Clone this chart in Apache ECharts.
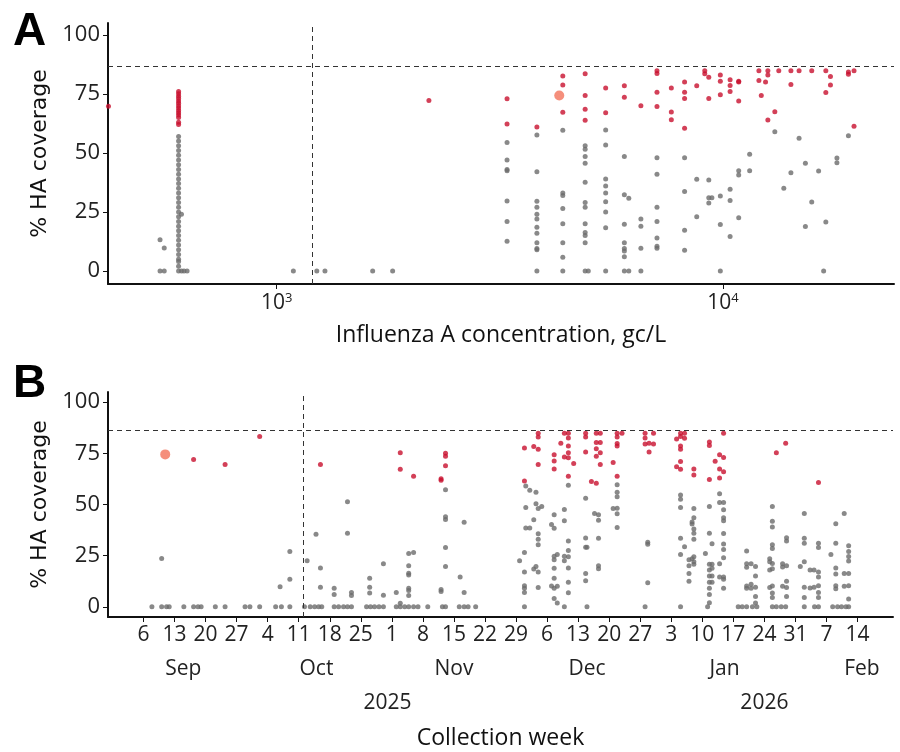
<!DOCTYPE html>
<html>
<head>
<meta charset="utf-8">
<script src="https://cdn.jsdelivr.net/npm/echarts@6/dist/echarts.min.js"></script>
<style>
html, body { margin: 0; padding: 0; background: #fff; }
#main { width: 900px; height: 752px; }
</style>
</head>
<body>
<div id="main"></div>
<script>
var myChart = echarts.init(document.getElementById('main'));

// Panel A: columns of [concentration gc/L, gray % HA values, red % HA values]
let colsA = [
	[420, [], [69.8]],
	[548, [0, 13.2], []],
	[560, [0, 9.7], []],
	[603, [0, 2, 4, 5, 7, 9, 11, 13, 15, 17, 19, 21, 23, 25, 27, 29, 31, 33, 35, 37, 39, 41, 43, 45, 47, 49, 51, 53, 55, 57], [62, 63, 65, 66, 67, 68, 69, 70, 71, 72, 73, 74, 75, 76]],
	[612, [0, 24], []],
	[620, [0], []],
	[630, [0], []],
	[1090, [0], []],
	[1230, [0], []],
	[1283, [0], []],
	[1641, [0], []],
	[1819, [0], []],
	[2193, [], [72.2]],
	[3282, [54.4, 47, 43, 42.4, 29.6, 21, 12.6], [72.9, 62.2]],
	[3828, [57.6, 42, 29.5, 27, 24, 22, 18.5, 16, 12, 9.5, 9, 0], [61]],
	[4375, [59.6, 33, 32, 26.5, 20, 12, 5.8, 0], [82.6, 78.8, 67.2]],
	[4910, [53, 51.5, 48.5, 45.6, 37.6, 29, 27, 20, 16.3, 15, 12, 0], [83.5, 74.3, 68.5, 63.8]],
	[4990, [0], []],
	[5458, [59.7, 53.4, 39, 36, 33, 29.3, 25, 18.3, 0], [77.5, 67]],
	[6010, [48.5, 32.3, 19.8, 12, 9.5, 8.5, 6, 0], [78.4, 73.6]],
	[6150, [30.8, 0], []],
	[6545, [22, 19, 9.6, 0], [70]],
	[7112, [48, 41, 27, 21, 14, 10.5, 9.6], [84.8, 83.6, 75.7, 69.6]],
	[7658, [], [77.5, 67.3, 64]],
	[8200, [48, 33.7, 17.3, 8.8], [80, 75.7, 73, 60.4]],
	[8730, [38.8, 23], [78.4]],
	[9100, [], [83.5, 84.8]],
	[9290, [38.5, 31, 28.8], [82, 73]],
	[9440, [31], []],
	[9860, [31.8, 19.7, 0], [83, 80.3, 74.6]],
	[10370, [34.6, 29.8, 14.6], [81, 78.5, 76]],
	[10840, [40.7, 42.4, 22.6], [80.3, 80, 72]],
	[11470, [49.4, 42.4], []],
	[12030, [], [80.7, 84.8]],
	[12180, [], [74.3]],
	[12450, [], [80]],
	[12600, [], [63.9, 84.8, 83]],
	[13060, [59], [67.4]],
	[13330, [], [84.8]],
	[13680, [35], []],
	[14190, [41.6], [84.8, 79]],
	[14800, [56.2], [84.8]],
	[15290, [45.6, 18.8], []],
	[15800, [29.2], [84.8]],
	[16370, [42.3], []],
	[16800, [0], []],
	[16990, [20.8], [84.8, 75.6]],
	[17400, [], [82.3, 78.8]],
	[17990, [47.8, 45.8], []],
	[19090, [57.3], [84.3, 83.3]],
	[19650, [], [84.8, 61.3]]
];
let highlightA = [[4296, 74.3]];

// Panel B: columns of [days after 6 Sep 2025, gray % HA values, red % HA values]
let colsB = [
	[1.9, [0], []], [4.1, [0, 23.6], []], [5.2, [0], []], [5.8, [0], []],
	[9.1, [0], []], [11.3, [0], [72]], [12.3, [0], []], [13, [0], []],
	[16.2, [0], []], [18.4, [0], [69.5]], [22.9, [0], []], [24, [0], []], [26.2, [0], [83.3]],
	[29.8, [0], []], [30.8, [9.8], []], [31.1, [0], []], [33, [0, 13.4, 27], []],
	[36.3, [0], []], [36.9, [22.5], []], [37.6, [0], []], [38.6, [0], []], [38.9, [35.5], []],
	[39.5, [0], []], [39.9, [19, 9.6], [69.5]], [40.2, [0], []],
	[43, [0, 9, 6], []], [44, [0], []], [45.1, [0], []], [46, [0, 51.3, 36], []], [46.9, [0, 7, 5.5], []],
	[50.3, [0], []], [51, [14, 9.6, 6.7], []], [51.2, [0], []], [52.1, [0], []], [53.1, [0], []], [54.1, [0, 21, 5.6], []],
	[57, [0, 7], []], [57.9, [0, 1.7], [75.3, 67.2]], [58.9, [0], []], [59.8, [0, 26, 9, 20, 16.4, 15.5, 8, 5.5], []],
	[60.9, [0, 26.5], [63.8]], [61.9, [0], []], [64.1, [0], []],
	[67.1, [8.5, 7.5], [62.6, 61.8]], [67.4, [0], []], [68.1, [0, 57.2, 44, 42.7, 29, 19.7], [75, 73.6, 69]],
	[71.2, [0], []], [71.4, [14.6], []], [72.3, [0, 41.3, 7], []], [73.2, [0], []], [74.9, [0], []],
	[84.8, [22.5], []], [85.9, [0, 26.5, 17, 10.3, 9, 7], [77.6, 61.5]], [86.2, [59, 48.5, 38.5], []],
	[87.1, [57, 38.5], []], [88, [42.5, 18.5], [78.4]], [88.5, [50.4, 56, 19.7], []],
	[89, [48, 35.7, 33, 30.3, 17, 9.4], [84.8, 83, 77, 69.5]], [89.8, [49], []],
	[92, [40.2, 10.2], []], [92.6, [38.4, 45, 24.7, 23, 18.8, 14, 9, 4], [74.3, 71.3, 67.4]],
	[93.3, [25.6, 10, 1.8], []], [94.1, [], [80]],
	[94.9, [0, 47.6, 42, 24.7, 22.5], [73.2, 84.8]],
	[95.8, [59.4, 32.2, 27.5, 24.4, 19, 12, 6.8], [84.8, 82.5, 78.6, 75.3, 72.8, 63.8]], [97, [], [70]],
	[99.7, [53, 33.6, 29.1, 16.3, 12.7], [84.8, 83, 75.7]], [100, [0, 29.1], []], [101, [], [61.2]],
	[101.7, [45.6], []], [102.1, [], [60.4, 84.8, 80.3, 77.3, 73.6]],
	[102.6, [45, 42.3, 33.5, 20, 18.6], []], [103, [], [84.8, 80.3, 75.3, 69.5]],
	[105.9, [48.1], [70.5]], [106.8, [59.6, 56, 53.8, 48.2, 45.5, 38.8], [84.8, 83, 79.8, 78.6, 63.8]], [107.9, [], [84.8]],
	[113.1, [0], [84.8, 82.5, 79.6]], [113.7, [31.6, 30.6, 11.8], []], [114, [], [80, 75.7]], [115, [], [84.8, 79.6]],
	[120.2, [], [82, 68.5]], [121.1, [0, 54.7, 52.6, 48.5, 33.5, 25.5], [84.8, 83.3, 78.6, 77, 71, 67.2]],
	[122, [29.3], [84.8, 82.4]], [123, [23, 20, 16.3, 12.5], []],
	[123.7, [40.5, 41.5, 23.5], []], [124.1, [48, 43.5, 38, 36, 33, 24.5, 22, 20.8], [67.4, 64.4]],
	[126.7, [26], []], [127.2, [0], []], [127.6, [49, 36, 20.8, 18, 15, 12, 9, 6, 2], [80.6, 78.8, 62.2]],
	[128.2, [30.8, 20.8, 18.8, 15, 12], []], [128.9, [], [71.2]],
	[129.9, [55.2, 51, 21, 14.5], [74.3, 67.4, 62.9]],
	[130.8, [51, 47.4, 43.5, 42, 35.8, 30.7, 28, 24, 14.5, 13.5, 9], [84.8, 73, 66]],
	[134.1, [0], []], [135, [0], []], [136, [0, 27.3, 21, 19.3, 10.2, 9], []],
	[137, [21, 11, 9], []], [137.3, [0], []], [138, [19.7, 15, 9.6, 5, 1.8], []], [138.3, [0], []],
	[141.2, [23.5, 22, 18, 9.4], []], [141.8, [0, 49, 41.8, 39, 30.3, 28.5, 21.1, 18.6, 10.1, 6.7, 4.5], []],
	[142.7, [0], [75.3]], [143.8, [0], []], [144.1, [21, 19.5, 10], []], [144.8, [0], [80]],
	[145, [33.8, 32.2, 20, 12.5, 9.4, 5], []],
	[148.1, [19.7], []], [149, [0, 45.6, 33.5, 31, 22, 9.5, 4.5], []],
	[150.3, [18, 9.2], []], [151.2, [18, 9.6], []], [151.3, [0], []],
	[152.2, [0, 31, 29, 17, 14.5, 10.3, 7, 4.5], [60.8]],
	[155, [25.5], []], [155.4, [0], []], [156.1, [40.6, 31, 19, 16, 10.3, 8.8], []], [156.5, [0], []],
	[157.4, [0], []], [158, [45.6, 16.3, 10], []], [158.4, [0], []],
	[159, [0, 29.8, 27, 24.6, 22.4, 16.3, 10.3, 3.8], []]
];
let highlightB = [[4.9, 74.5]];

let weekTicks = [0, 7, 14, 21, 28, 35, 42, 49, 56, 63, 70, 77, 84, 91, 98, 105, 112, 119, 126, 133, 140, 147, 154, 161];
let monthPos = [9, 39, 70, 100, 131, 162];
let monthNames = ['Sep', 'Oct', 'Nov', 'Dec', 'Jan', 'Feb'];
let yearPos = [55, 140];
let yearNames = ['2025', '2026'];
let yTicks = [0, 25, 50, 75, 100];
let threshold = 86.5;
let cutA = 1200;
let cutB = 36;

const startDate = new Date(2025, 8, 6);
const toPoints = (cols, k) => {
	let out = [];
	cols.forEach(c => c[k].forEach(v => out.push([c[0], v])));
	return out;
};

const gray = '#6b6b6b', red = '#c8102e', orange = '#f3735b';
const font = "'Liberation Sans Narrow', 'Open Sans', sans-serif";

const yAxisBase = (grid, min) => ({
	gridIndex: grid,
	type: 'value',
	min: min,
	max: 105,
	name: '% HA coverage',
	nameLocation: 'middle',
	nameGap: 48,
	nameTextStyle: { fontFamily: 'DejaVu Sans', fontSize: 22, color: '#111' },
	splitLine: { show: false },
	axisLine: { show: true, onZero: false, lineStyle: { color: '#111', width: 2 } },
	axisTick: { show: true, length: 5, customValues: yTicks, lineStyle: { color: '#111' } },
	axisLabel: { customValues: yTicks, fontFamily: font, fontSize: 22, color: '#222', margin: 8 }
});

const dashLines = (xv) => ({
	silent: true,
	symbol: 'none',
	label: { show: false },
	lineStyle: { type: [5, 4], color: '#333', width: 1 },
	data: [{ yAxis: threshold }, { xAxis: xv }]
});

const xLine = { onZero: false, lineStyle: { color: '#111', width: 2 } };

option = {
	animation: false,
	grid: [
		{ left: 108, right: 6, top: 23, height: 261 },
		{ left: 108, right: 7, top: 392, height: 225 }
	],
	title: [
		{ text: 'A', left: 8, top: 4, textStyle: { fontSize: 46, fontWeight: 'bold', fontFamily: 'Liberation Sans', color: '#000' } },
		{ text: 'B', left: 8, top: 356, textStyle: { fontSize: 46, fontWeight: 'bold', fontFamily: 'Liberation Sans', color: '#000' } }
	],
	xAxis: [{
		gridIndex: 0,
		type: 'log',
		logBase: 10,
		min: 419,
		max: 24150,
		name: 'Influenza A concentration, gc/L',
		nameLocation: 'middle',
		nameGap: 40,
		nameTextStyle: { fontFamily: font, fontSize: 23, color: '#111' },
		splitLine: { show: false },
		axisLine: xLine,
		axisTick: { customValues: [1000, 10000], length: 5, lineStyle: { color: '#111' } },
		axisLabel: {
			customValues: [1000, 10000],
			formatter: v => '10{s|' + Math.round(Math.log10(v)) + '}',
			fontFamily: font, fontSize: 21, color: '#222', margin: 8,
			rich: { s: { fontSize: 13, verticalAlign: 'top', padding: [0, 0, 10, 0], fontFamily: font, color: '#222' } }
		}
	}, {
		gridIndex: 1,
		type: 'value',
		min: -8,
		max: 169,
		name: 'Collection week',
		nameLocation: 'middle',
		nameGap: 110,
		nameTextStyle: { fontFamily: font, fontSize: 23, color: '#111' },
		splitLine: { show: false },
		axisLine: xLine,
		axisTick: { customValues: weekTicks, length: 5, lineStyle: { color: '#111' } },
		axisLabel: {
			customValues: weekTicks,
			formatter: v => {
				let d = new Date(startDate.getTime());
				d.setDate(d.getDate() + Math.round(v));
				return String(d.getDate());
			},
			fontFamily: font, fontSize: 21, color: '#222', margin: 8
		}
	}, {
		gridIndex: 1,
		type: 'value',
		min: -8,
		max: 169,
		position: 'bottom',
		offset: 34,
		axisLine: { show: false },
		axisTick: { show: false },
		splitLine: { show: false },
		axisLabel: {
			customValues: monthPos,
			formatter: v => monthNames[monthPos.indexOf(v)],
			fontFamily: font, fontSize: 21, color: '#222', margin: 8
		}
	}, {
		gridIndex: 1,
		type: 'value',
		min: -8,
		max: 169,
		position: 'bottom',
		offset: 68,
		axisLine: { show: false },
		axisTick: { show: false },
		splitLine: { show: false },
		axisLabel: {
			customValues: yearPos,
			formatter: v => yearNames[yearPos.indexOf(v)],
			fontFamily: font, fontSize: 21, color: '#222', margin: 8
		}
	}],
	yAxis: [yAxisBase(0, -5.5), yAxisBase(1, -5)],
	series: [{
		type: 'scatter', xAxisIndex: 0, yAxisIndex: 0, symbolSize: 5,
		itemStyle: { color: gray }, data: toPoints(colsA, 1),
		markLine: dashLines(cutA)
	}, {
		type: 'scatter', xAxisIndex: 0, yAxisIndex: 0, symbolSize: 5,
		itemStyle: { color: red }, data: toPoints(colsA, 2)
	}, {
		type: 'scatter', xAxisIndex: 0, yAxisIndex: 0, symbolSize: 10,
		itemStyle: { color: orange }, data: highlightA
	}, {
		type: 'scatter', xAxisIndex: 1, yAxisIndex: 1, symbolSize: 5,
		itemStyle: { color: gray }, data: toPoints(colsB, 1),
		markLine: dashLines(cutB)
	}, {
		type: 'scatter', xAxisIndex: 1, yAxisIndex: 1, symbolSize: 5,
		itemStyle: { color: red }, data: toPoints(colsB, 2)
	}, {
		type: 'scatter', xAxisIndex: 1, yAxisIndex: 1, symbolSize: 10,
		itemStyle: { color: orange }, data: highlightB
	}]
};
myChart.setOption(option);
</script>
</body>
</html>
